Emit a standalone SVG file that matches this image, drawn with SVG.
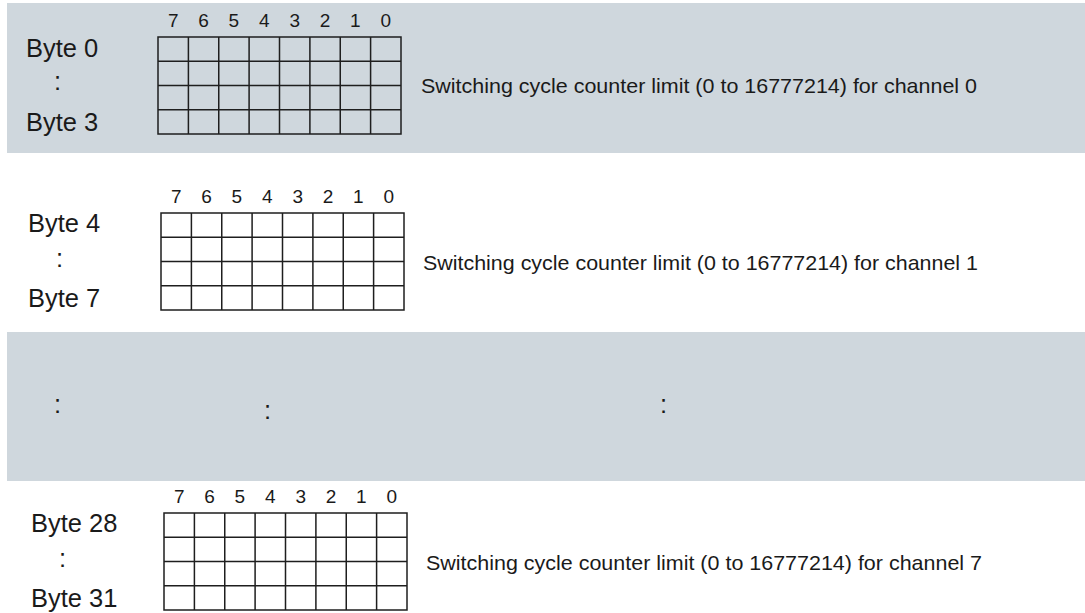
<svg xmlns="http://www.w3.org/2000/svg" width="1085" height="613" viewBox="0 0 1085 613">
<style>
.band{fill:#cfd7dd}
.grid{fill:none;stroke:#1e1e1e;stroke-width:1.5}
.lbl{font-family:"Liberation Sans",Arial,sans-serif;font-size:25.5px;fill:#1a1a1a}
.bit{font-family:"Liberation Sans",Arial,sans-serif;font-size:19px;fill:#1a1a1a;text-anchor:middle}
.desc{font-family:"Liberation Sans",Arial,sans-serif;font-size:21px;fill:#1a1a1a}
</style>
<defs>
<g id="grid">
<rect class="grid" x="0" y="0" width="243" height="97"/>
<path class="grid" d="M0 24.25H243M0 48.5H243M0 72.75H243M30.4 0V97M60.75 0V97M91.1 0V97M121.5 0V97M151.9 0V97M182.25 0V97M212.6 0V97"/>
<text class="bit" x="15.2" y="-10">7</text>
<text class="bit" x="45.6" y="-10">6</text>
<text class="bit" x="75.9" y="-10">5</text>
<text class="bit" x="106.3" y="-10">4</text>
<text class="bit" x="136.7" y="-10">3</text>
<text class="bit" x="167.1" y="-10">2</text>
<text class="bit" x="197.4" y="-10">1</text>
<text class="bit" x="227.8" y="-10">0</text>
</g>
</defs>
<rect width="1085" height="613" fill="#ffffff"/>
<g id="band-ch0">
<rect class="band" x="7" y="3" width="1078" height="150"/>
<text class="lbl" x="26" y="57">Byte 0</text>
<text class="lbl" x="54" y="90">:</text>
<text class="lbl" x="26" y="131">Byte 3</text>
<use href="#grid" x="158" y="37"/>
<text class="desc" x="421" y="93" textLength="556" lengthAdjust="spacingAndGlyphs">Switching cycle counter limit (0 to 16777214) for channel 0</text>
</g>
<g id="band-ch1">
<text class="lbl" x="28" y="232">Byte 4</text>
<text class="lbl" x="56" y="267">:</text>
<text class="lbl" x="28" y="307">Byte 7</text>
<use href="#grid" x="161" y="213"/>
<text class="desc" x="423" y="270" textLength="555" lengthAdjust="spacingAndGlyphs">Switching cycle counter limit (0 to 16777214) for channel 1</text>
</g>
<g id="band-dots">
<rect class="band" x="7" y="332" width="1078" height="149"/>
<text class="lbl" x="54" y="413">:</text>
<text class="lbl" x="264" y="419">:</text>
<text class="lbl" x="660" y="413">:</text>
</g>
<g id="band-ch7">
<text class="lbl" x="31" y="532">Byte 28</text>
<text class="lbl" x="59" y="567">:</text>
<text class="lbl" x="31" y="607">Byte 31</text>
<use href="#grid" x="164" y="513"/>
<text class="desc" x="426" y="570" textLength="556" lengthAdjust="spacingAndGlyphs">Switching cycle counter limit (0 to 16777214) for channel 7</text>
</g>
<g id="connectors"/>
</svg>
